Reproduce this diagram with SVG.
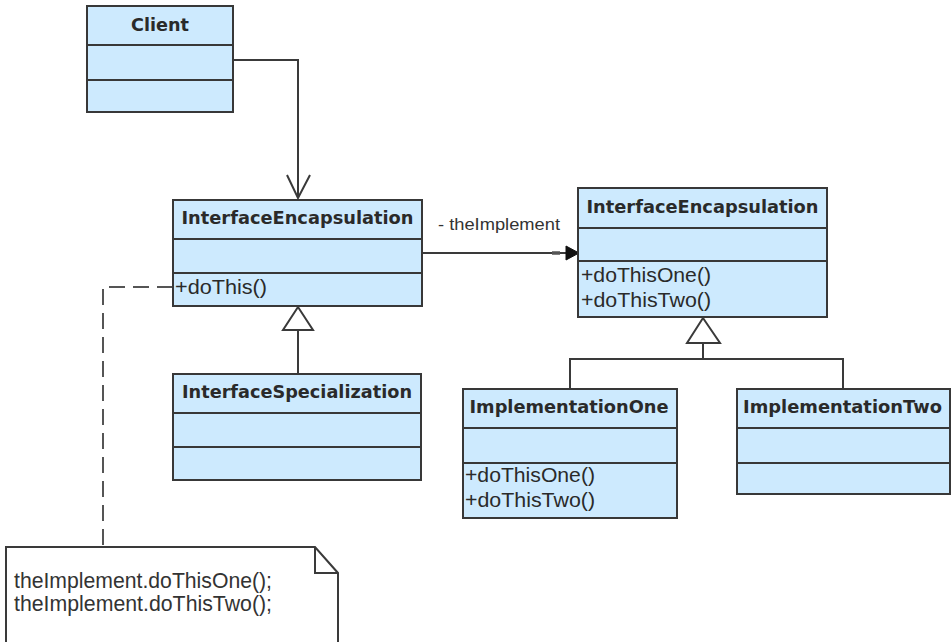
<svg xmlns="http://www.w3.org/2000/svg" width="952" height="642" viewBox="0 0 952 642">
<style>
.box{fill:#cdeafe;stroke:#383838;stroke-width:2}
.div{stroke:#383838;stroke-width:2}
.title{font-family:"DejaVu Sans","Liberation Sans",sans-serif;font-weight:bold;font-size:18px;fill:#2a2a2a}
.op{font-family:"Liberation Sans",Arial,sans-serif;font-size:20px;fill:#2a2a2a}
.lbl{font-family:"Liberation Sans",Arial,sans-serif;font-size:17px;fill:#333}
.note{font-family:"Liberation Sans",Arial,sans-serif;font-size:22px;fill:#333}
.line{fill:none;stroke:#3a3a3a;stroke-width:2}
</style>
<rect width="952" height="642" fill="#fff"/>
<g id="connectors">
<path class="line" d="M233,60 H298 V198"/>
<path class="line" d="M287,175 L298,198 L310,175"/>
<path class="line" d="M422,253 H568"/>
<path d="M552,253 H560" stroke="#555" stroke-width="3.5"/>
<path d="M579,253 L566,246 L566,260 Z" fill="#111" stroke="#111" stroke-width="1"/>
<text class="lbl" x="438" y="230" textLength="122" lengthAdjust="spacingAndGlyphs">- theImplement</text>
<path class="line" d="M298,330 V374"/>
<path d="M298,307 L283,330 H313 Z" fill="#fff" stroke="#3a3a3a" stroke-width="2"/>
<path class="line" d="M703,343 V359 M570,389 V359 H843 V389"/>
<path d="M703,318 L687,343 H720 Z" fill="#fff" stroke="#3a3a3a" stroke-width="2"/>
<path d="M173,287 H103 V546" fill="none" stroke="#555" stroke-width="2" stroke-dasharray="16 8"/>
</g>
<g id="client">
<rect class="box" x="87" y="6" width="146" height="106"/>
<line class="div" x1="87" y1="45" x2="233" y2="45"/>
<line class="div" x1="87" y1="80" x2="233" y2="80"/>
<text class="title" x="160" y="31" text-anchor="middle" textLength="58" lengthAdjust="spacingAndGlyphs">Client</text>
</g>
<g id="interfaceEncapsulationLeft">
<rect class="box" x="173" y="200" width="249" height="106"/>
<line class="div" x1="173" y1="239" x2="422" y2="239"/>
<line class="div" x1="173" y1="273" x2="422" y2="273"/>
<text class="title" x="297.5" y="224" text-anchor="middle" textLength="232" lengthAdjust="spacingAndGlyphs">InterfaceEncapsulation</text>
<text class="op" x="175" y="294" textLength="92" lengthAdjust="spacingAndGlyphs">+doThis()</text>
</g>
<g id="interfaceSpecialization">
<rect class="box" x="173" y="374" width="248" height="106"/>
<line class="div" x1="173" y1="413" x2="421" y2="413"/>
<line class="div" x1="173" y1="447" x2="421" y2="447"/>
<text class="title" x="297" y="398" text-anchor="middle" textLength="230" lengthAdjust="spacingAndGlyphs">InterfaceSpecialization</text>
</g>
<g id="interfaceEncapsulationRight">
<rect class="box" x="578" y="188" width="249" height="129"/>
<line class="div" x1="578" y1="228" x2="827" y2="228"/>
<line class="div" x1="578" y1="261" x2="827" y2="261"/>
<text class="title" x="702.5" y="213" text-anchor="middle" textLength="232" lengthAdjust="spacingAndGlyphs">InterfaceEncapsulation</text>
<text class="op" x="581" y="282" textLength="130" lengthAdjust="spacingAndGlyphs">+doThisOne()</text>
<text class="op" x="581" y="307" textLength="130" lengthAdjust="spacingAndGlyphs">+doThisTwo()</text>
</g>
<g id="implementationOne">
<rect class="box" x="463" y="389" width="214" height="129"/>
<line class="div" x1="463" y1="428" x2="677" y2="428"/>
<line class="div" x1="463" y1="463" x2="677" y2="463"/>
<text class="title" x="569" y="413" text-anchor="middle" textLength="199" lengthAdjust="spacingAndGlyphs">ImplementationOne</text>
<text class="op" x="465" y="482" textLength="130" lengthAdjust="spacingAndGlyphs">+doThisOne()</text>
<text class="op" x="465" y="507" textLength="130" lengthAdjust="spacingAndGlyphs">+doThisTwo()</text>
</g>
<g id="implementationTwo">
<rect class="box" x="737" y="389" width="213" height="105"/>
<line class="div" x1="737" y1="428" x2="950" y2="428"/>
<line class="div" x1="737" y1="463" x2="950" y2="463"/>
<text class="title" x="842.5" y="413" text-anchor="middle" textLength="199" lengthAdjust="spacingAndGlyphs">ImplementationTwo</text>
</g>
<g id="note">
<path d="M6,650 V547 H315 L338,573 V650" fill="#fff" stroke="#3a3a3a" stroke-width="2"/>
<path d="M315,547 V573 H338" fill="none" stroke="#3a3a3a" stroke-width="2"/>
<text class="note" x="14" y="588" textLength="258" lengthAdjust="spacingAndGlyphs">theImplement.doThisOne();</text>
<text class="note" x="14" y="611" textLength="258" lengthAdjust="spacingAndGlyphs">theImplement.doThisTwo();</text>
</g>
</svg>
